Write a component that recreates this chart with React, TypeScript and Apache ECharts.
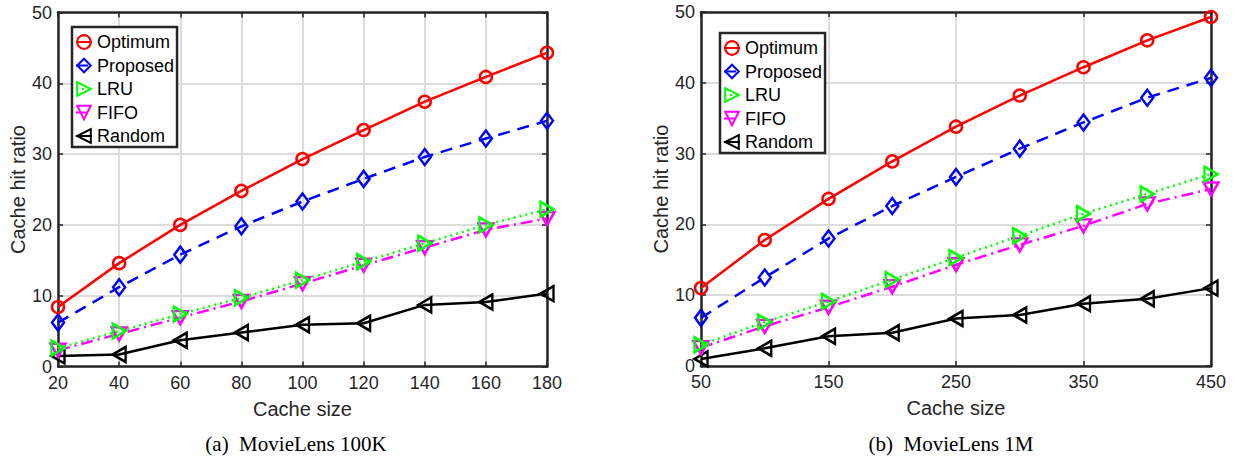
import React, { useEffect, useRef } from "react";
import * as echarts from "echarts";

// Cache sizes (x values) for the two datasets
const cacheSize100K = [20, 40, 60, 80, 100, 120, 140, 160, 180];
const cacheSize1M = [50, 100, 150, 200, 250, 300, 350, 400, 450];

// Cache hit ratio (%) — MovieLens 100K
const optimum100K = [8.4, 14.6, 20.0, 24.8, 29.3, 33.4, 37.4, 40.9, 44.3];
const proposed100K = [6.2, 11.2, 15.8, 19.8, 23.3, 26.5, 29.6, 32.2, 34.7];
const lru100K = [2.6, 5.0, 7.4, 9.7, 12.2, 14.8, 17.4, 20.0, 22.2];
const fifo100K = [2.3, 4.6, 6.9, 9.2, 11.7, 14.3, 16.8, 19.3, 20.9];
const random100K = [1.5, 1.7, 3.7, 4.8, 5.9, 6.1, 8.7, 9.1, 10.3];

// Cache hit ratio (%) — MovieLens 1M
const optimum1M = [11.0, 17.8, 23.6, 28.9, 33.8, 38.2, 42.2, 46.0, 49.3];
const proposed1M = [6.8, 12.5, 18.0, 22.6, 26.7, 30.7, 34.4, 37.9, 40.7];
const lru1M = [3.0, 6.2, 9.1, 12.2, 15.3, 18.4, 21.5, 24.3, 27.1];
const fifo1M = [2.6, 5.6, 8.3, 11.2, 14.3, 17.1, 19.8, 22.9, 25.0];
const random1M = [1.0, 2.5, 4.2, 4.7, 6.7, 7.2, 8.8, 9.5, 11.0];

const methodNames = ["Optimum", "Proposed", "LRU", "FIFO", "Random"];
const captions = ["(a)\u00a0\u00a0MovieLens 100K", "(b)\u00a0\u00a0MovieLens 1M"];
const xAxisTitle = "Cache size";
const yAxisTitle = "Cache hit ratio";

const SANS = '"Liberation Sans", Arial, Helvetica, sans-serif';
const SERIF = '"Liberation Serif", "Times New Roman", serif';
const AXIS_DARK = "#262626";
const GRID_GRAY = "#dcdcdc";

// Line/marker appearance per method
const methodStyles = [
  { color: "#ff0000", dash: "solid", symbol: "circle", size: 12 },
  { color: "#0000ff", dash: [12, 8], symbol: "diamond", size: [12, 16] },
  { color: "#00ff00", dash: [2, 4], symbol: "path://M0,0L10,6L0,12Z", size: [13, 15] },
  { color: "#ff00ff", dash: [12, 5, 2, 5], symbol: "path://M0,0L12,0L6,10Z", size: [15, 13] },
  { color: "#000000", dash: "solid", symbol: "path://M10,0L0,6L10,12Z", size: [13, 15] },
];

const panels = [
  {
    xs: cacheSize100K,
    values: [optimum100K, proposed100K, lru100K, fifo100K, random100K],
    xMin: 20,
    xMax: 180,
    xStep: 20,
    grid: { left: 58, top: 12.5, width: 489, height: 354 },
    legend: { left: 72, top: 27 },
    captionX: 296,
  },
  {
    xs: cacheSize1M,
    values: [optimum1M, proposed1M, lru1M, fifo1M, random1M],
    xMin: 50,
    xMax: 450,
    xStep: 100,
    grid: { left: 701, top: 12, width: 510, height: 354 },
    legend: { left: 720, top: 33 },
    captionX: 951,
  },
];

const boxLine = { show: true, onZero: false, lineStyle: { color: AXIS_DARK, width: 2.5 } };
const innerTick = { show: true, inside: true, length: 5, lineStyle: { color: AXIS_DARK, width: 1.5 } };
const tickFont = { fontSize: 18, fontFamily: SANS, color: AXIS_DARK };

function buildOption() {
  const grids: any[] = [];
  const xAxes: any[] = [];
  const yAxes: any[] = [];
  const series: any[] = [];
  const legends: any[] = [];
  const graphics: any[] = [];

  panels.forEach((p, i) => {
    grids.push({ ...p.grid, containLabel: false });
    xAxes.push(
      {
        type: "value",
        gridIndex: i,
        position: "bottom",
        min: p.xMin,
        max: p.xMax,
        interval: p.xStep,
        name: xAxisTitle,
        nameLocation: "middle",
        nameGap: 32,
        nameTextStyle: { fontSize: 20, fontFamily: SANS, color: AXIS_DARK },
        axisLine: boxLine,
        axisTick: innerTick,
        axisLabel: { ...tickFont, margin: 7, showMinLabel: true, showMaxLabel: true },
        splitLine: { show: true, lineStyle: { color: GRID_GRAY, width: 2 } },
      },
      {
        type: "value",
        gridIndex: i,
        position: "top",
        min: p.xMin,
        max: p.xMax,
        interval: p.xStep,
        axisLine: boxLine,
        axisTick: innerTick,
        axisLabel: { show: false },
        splitLine: { show: false },
      }
    );
    yAxes.push(
      {
        type: "value",
        gridIndex: i,
        position: "left",
        min: 0,
        max: 50,
        interval: 10,
        name: yAxisTitle,
        nameLocation: "middle",
        nameGap: 27,
        nameTextStyle: { fontSize: 20, fontFamily: SANS, color: AXIS_DARK },
        axisLine: boxLine,
        axisTick: innerTick,
        axisLabel: { ...tickFont, margin: 6 },
        splitLine: { show: true, lineStyle: { color: GRID_GRAY, width: 2 } },
      },
      {
        type: "value",
        gridIndex: i,
        position: "right",
        min: 0,
        max: 50,
        interval: 10,
        axisLine: boxLine,
        axisTick: innerTick,
        axisLabel: { show: false },
        splitLine: { show: false },
      }
    );

    methodNames.forEach((name, k) => {
      const st = methodStyles[k];
      series.push({
        type: "line",
        name,
        xAxisIndex: i * 2,
        yAxisIndex: i * 2,
        data: p.xs.map((x, j) => [x, p.values[k][j]]),
        symbol: st.symbol,
        symbolSize: st.size,
        showSymbol: true,
        clip: false,
        lineStyle: { color: st.color, width: 2.5, type: st.dash },
        itemStyle: { color: "rgba(0,0,0,0)", borderColor: st.color, borderWidth: 2.5 },
        emphasis: { disabled: true },
        z: 10 - k,
      });
    });

    legends.push({
      orient: "vertical",
      left: p.legend.left,
      top: p.legend.top,
      data: methodNames,
      selectedMode: false,
      itemWidth: 16,
      itemHeight: 17,
      itemGap: 5.5,
      padding: [6, 3, 2, 3],
      borderColor: AXIS_DARK,
      borderWidth: 2.5,
      backgroundColor: "#ffffff",
      textStyle: { fontSize: 18, fontFamily: SANS, color: "#000000", lineHeight: 18 },
    });

    graphics.push({
      type: "text",
      x: p.captionX,
      y: 444,
      style: {
        text: captions[i],
        fontSize: 21,
        fontFamily: SERIF,
        fill: "#000000",
        align: "center",
        verticalAlign: "middle",
      },
    });
  });

  return {
    animation: false,
    backgroundColor: "#ffffff",
    grid: grids,
    xAxis: xAxes,
    yAxis: yAxes,
    legend: legends,
    series,
    graphic: graphics,
  };
}

export default function App() {
  const ref = useRef<HTMLDivElement>(null);

  useEffect(() => {
    if (!ref.current) return;
    const chart = echarts.init(ref.current, undefined, { renderer: "svg" });
    chart.setOption(buildOption());
    return () => chart.dispose();
  }, []);

  return (
    <div
      ref={ref}
      style={{ position: "fixed", left: 0, top: 0, width: 1238, height: 457, background: "#fff" }}
    />
  );
}
